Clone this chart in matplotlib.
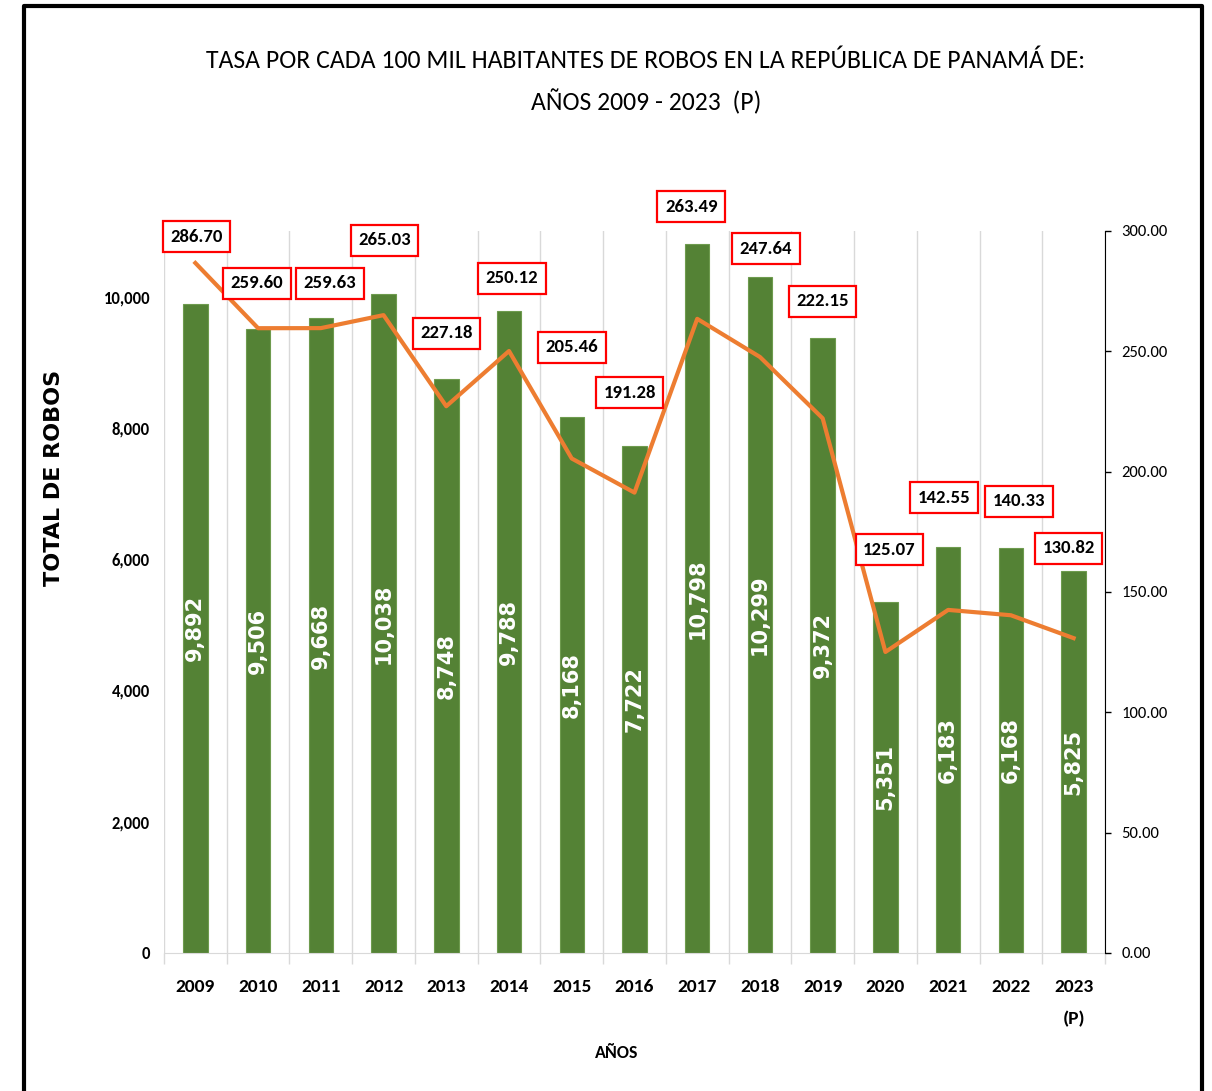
import matplotlib.pyplot as plt
from matplotlib.lines import Line2D
import numpy as np

# data
years = ['2009', '2010', '2011', '2012', '2013', '2014', '2015', '2016',
         '2017', '2018', '2019', '2020', '2021', '2022', '2023\n(P)']
robos = [9892, 9506, 9668, 10038, 8748, 9788, 8168, 7722,
         10798, 10299, 9372, 5351, 6183, 6168, 5825]
tasa = [286.70, 259.60, 259.63, 265.03, 227.18, 250.12, 205.46, 191.28,
        263.49, 247.64, 222.15, 125.07, 142.55, 140.33, 130.82]

# where each rate label box sits, relative to its point (pixels)
label_offsets = [(1, 26), (-1, 45), (9, 45), (1, 75), (0, 73), (3, 73),
                 (0, 111), (-5, 100), (-6, 112), (6, 108), (0, 117),
                 (4, 102), (-4, 112), (8, 114), (-5, 90)]

narrow = ['Carlito', 'Liberation Sans Narrow', 'Roboto', 'DejaVu Sans']
green = '#548235'
orange = '#ED7D31'
grid_gray = '#D9D9D9'

fig = plt.figure(figsize=(12.12, 10.91), dpi=100)
ax = fig.add_axes([0.1353, 0.1265, 0.7764, 0.6618])
ax2 = ax.twinx()

x = np.arange(len(years))
ax.bar(x, robos, width=0.39, color=green, edgecolor='#6E9B4E', linewidth=0.8, zorder=2)

for xi, v in zip(x, robos):
    ax.text(xi, v / 2, f'{v:,}', rotation=90, ha='center', va='center',
            color='white', fontsize=15, fontweight='bold', family='DejaVu Sans', zorder=3)

# vertical separators between categories
for b in np.arange(-0.5, len(years), 1.0):
    ax.axvline(b, color=grid_gray, lw=1, zorder=0)

ax.set_xlim(-0.5, len(years) - 0.5)
ax.set_ylim(0, 11000)
ax.set_yticks(np.arange(0, 10001, 2000))
ax.set_yticklabels([f'{t:,}' for t in range(0, 10001, 2000)],
                   family=narrow, fontsize=12, fontweight='bold')
ax.tick_params(axis='y', length=0, pad=10)
ax.set_xticks(x)
ax.set_xticklabels(years, family=narrow, fontsize=14, fontweight='bold', linespacing=2.2)
ax.tick_params(axis='x', length=0, pad=19)
ax.set_xticks(np.arange(-0.5, len(years), 1.0), minor=True)
ax.tick_params(axis='x', which='minor', length=8, color=grid_gray, width=1)

for s in ['left', 'top', 'right']:
    ax.spines[s].set_visible(False)
ax.spines['bottom'].set_color(grid_gray)

ax.set_ylabel('TOTAL DE ROBOS', fontsize=16, fontweight='bold', family='DejaVu Sans')
ax.yaxis.set_label_coords(-0.106, 0.658)
ax.set_xlabel('AÑOS', family=narrow, fontsize=13, fontweight='bold')
ax.xaxis.set_label_coords(0.481, -0.128)

# rate line on the secondary axis
ax2.plot(x, tasa, color=orange, lw=3, zorder=4, solid_joinstyle='round')
ax2.set_ylim(0, 300)
ax2.set_yticks(np.arange(0, 301, 50))
ax2.set_yticklabels([f'{t:.2f}' for t in range(0, 301, 50)], family=narrow, fontsize=12)
ax2.tick_params(axis='y', length=4, width=1, color='black', pad=8)
for s in ['left', 'top', 'bottom']:
    ax2.spines[s].set_visible(False)
ax2.spines['right'].set_color('black')

for xi, v, (dx, dy) in zip(x, tasa, label_offsets):
    ax2.annotate(f'{v:.2f}', (xi, v), xytext=(dx, dy), textcoords='offset pixels',
                 ha='center', va='center', family=narrow, fontsize=13.5, fontweight='bold',
                 bbox=dict(boxstyle='square,pad=0.4', fc='white', ec='red', lw=1.6),
                 zorder=5)

fig.text(0.533, 0.945, 'TASA POR CADA 100 MIL HABITANTES DE ROBOS EN LA REPÚBLICA DE PANAMÁ DE:',
         ha='center', va='center', family=narrow, fontsize=18.5)
fig.text(0.533, 0.907, 'AÑOS 2009 - 2023  (P)', ha='center', va='center',
         family=narrow, fontsize=18.5)

# black frame around the chart
fx = [23.5 / 1212, 23.5 / 1212, 1202 / 1212, 1202 / 1212]
fy = [0, 1 - 5.5 / 1091, 1 - 5.5 / 1091, 0]
fig.add_artist(Line2D(fx, fy, color='black', lw=3, transform=fig.transFigure))

plt.savefig('out.png', dpi=100)
